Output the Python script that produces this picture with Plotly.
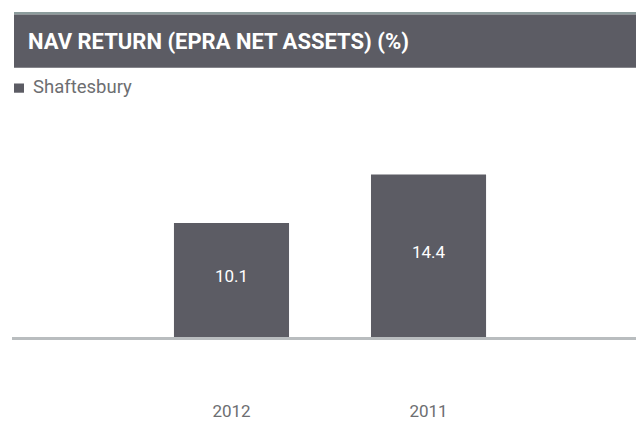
import plotly.graph_objects as go

categories = ["2012", "2011"]
values = [10.1, 14.4]
labels = ["10.1", "14.4"]
series_name = "Shaftesbury"
title_text = "NAV RETURN (EPRA NET ASSETS) (%)"

BAR = "#5c5c64"
W, H = 636, 421
L, R, T, B = 12, 0, 100, 77
PW, PH = W - L - R, H - T - B
base_px = T + PH  # 344


def py(px):
    return (base_px - px) / PH


def pxx(px):
    return (px - L) / PW


fig = go.Figure()
fig.add_trace(go.Bar(
    x=[0, 1],
    y=values,
    marker=dict(color=BAR, line=dict(width=0)),
    width=0.584,
    name=series_name,
    showlegend=False,
    hoverinfo="skip",
))

shapes = [
    dict(type="rect", xref="paper", yref="paper", x0=pxx(14), x1=1.0,
         y0=py(12), y1=py(9.3), fillcolor="#8c9c9c", line=dict(width=0), layer="below"),
    dict(type="rect", xref="paper", yref="paper", x0=pxx(14), x1=1.0,
         y0=py(66.7), y1=py(12), fillcolor=BAR, line=dict(width=0), layer="below"),
    dict(type="rect", xref="paper", yref="paper", x0=pxx(14), x1=pxx(24),
         y0=py(92.5), y1=py(83), fillcolor=BAR, line=dict(width=0)),
]

annotations = [
    dict(text="<b>" + title_text + "</b>", xref="paper", yref="paper",
         x=pxx(26), y=py(39.5), xanchor="left", yanchor="middle", showarrow=False,
         font=dict(family="Roboto", size=22, color="white")),
    dict(text=series_name, xref="paper", yref="paper",
         x=pxx(31), y=py(86.5), xanchor="left", yanchor="middle", showarrow=False,
         font=dict(family="Roboto", size=18.5, color="#6d6e71")),
]
for i, (v, t) in enumerate(zip(values, labels)):
    annotations.append(dict(
        text=t, x=i, y=v / 2, xref="x", yref="y", showarrow=False,
        xanchor="center", yanchor="middle", yshift=4,
        font=dict(family="Roboto", size=17, color="white"),
    ))

fig.update_layout(
    width=W, height=H,
    margin=dict(l=L, r=R, t=T, b=B, pad=0),
    paper_bgcolor="white", plot_bgcolor="white",
    shapes=shapes, annotations=annotations,
    showlegend=False,
    xaxis=dict(
        range=[-1.114, 2.053],
        tickvals=[0, 1], ticktext=categories,
        showgrid=False, zeroline=False,
        showline=True, linecolor="#b9bdbf", linewidth=3,
        ticks="", ticklabelstandoff=57,
        tickfont=dict(family="Roboto", size=17, color="#6d6e71"),
        fixedrange=True,
    ),
    yaxis=dict(
        range=[0, PH / 11.625],
        visible=False, showgrid=False, zeroline=False,
        fixedrange=True,
    ),
)

fig.write_html(
    "out.html",
    config={"displayModeBar": False},
    post_script="document.body.style.margin='0';document.body.style.overflow='hidden';",
)
